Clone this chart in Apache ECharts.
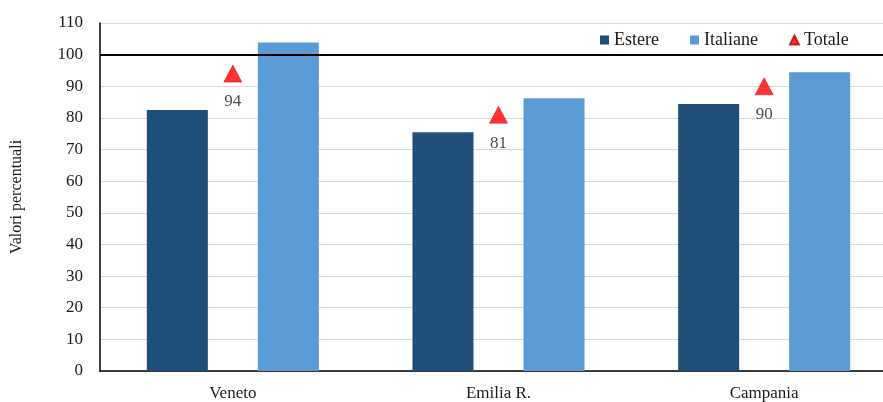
<!DOCTYPE html>
<html><head><meta charset="utf-8">
<script src="https://cdn.jsdelivr.net/npm/echarts@6/dist/echarts.min.js"></script>
<style>html,body{margin:0;padding:0;background:#fff}#c{width:883px;height:402px}</style>
</head><body><div id="c"></div>
<script>
const categories = ['Veneto', 'Emilia R.', 'Campania'];
const estere = [82.5, 75.5, 84.4];
const italiane = [103.8, 86.2, 94.4];
const totale = [94, 81, 90];
const yTicks = { min: 0, max: 110, interval: 10 };
const refValue = 100;

const FONT = 'Liberation Serif';
const chart = echarts.init(document.getElementById('c'));
chart.setOption({
  animation: false,
  textStyle: { fontFamily: FONT },
  grid: { left: 100, width: 797, top: 23, bottom: 31, outerBoundsMode: 'none', containLabel: false },
  legend: {
    left: 595, top: 26, itemWidth: 9, itemHeight: 9, itemGap: 31,
    textStyle: { fontFamily: FONT, fontSize: 18, color: '#1a1a1a' },
    data: [
      { name: 'Estere', icon: 'rect' },
      { name: 'Italiane', icon: 'rect' },
      { name: 'Totale', icon: 'triangle' }
    ]
  },
  xAxis: {
    type: 'category', data: categories,
    axisLine: { lineStyle: { color: '#000', width: 1.5 } },
    axisTick: { show: false },
    axisLabel: { fontFamily: FONT, fontSize: 17, color: '#1a1a1a', margin: 14 }
  },
  yAxis: {
    type: 'value', min: yTicks.min, max: yTicks.max, interval: yTicks.interval,
    name: 'Valori percentuali', nameLocation: 'middle', nameGap: 75,
    nameTextStyle: { fontFamily: FONT, fontSize: 16, color: '#1a1a1a' },
    axisLine: { show: true, lineStyle: { color: '#000', width: 1.5 } },
    axisTick: { show: false },
    axisLabel: { fontFamily: FONT, fontSize: 17, color: '#1a1a1a', margin: 17 },
    splitLine: { lineStyle: { color: '#d9d9d9', width: 1 } }
  },
  series: [
    {
      name: 'Estere', type: 'bar', data: estere, barWidth: 61, barGap: '82%',
      itemStyle: { color: '#1F4E79' }
    },
    {
      name: 'Italiane', type: 'bar', data: italiane, barWidth: 61,
      itemStyle: { color: '#5B9BD5' },
      markLine: {
        silent: true, symbol: ['none', 'none'], label: { show: false },
        lineStyle: { color: '#000', width: 2, type: 'solid' },
        data: [{ yAxis: refValue }]
      }
    },
    {
      name: 'Totale', type: 'scatter', data: totale, symbol: 'triangle', symbolSize: [18, 17],
      itemStyle: { color: '#FF0000', borderColor: '#C00000', borderWidth: 0.6 }, z: 5,
      label: { show: true, position: 'bottom', distance: 11, fontFamily: FONT, fontSize: 17, color: '#1a1a1a' }
    }
  ]
});
</script></body></html>
